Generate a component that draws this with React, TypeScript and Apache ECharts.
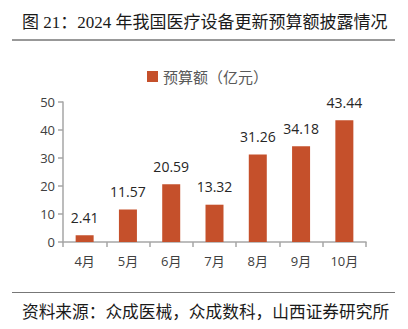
import React, { useEffect, useRef } from "react";
import * as echarts from "echarts";

const categories = ["4月", "5月", "6月", "7月", "8月", "9月", "10月"];
const values = [2.41, 11.57, 20.59, 13.32, 31.26, 34.18, 43.44];
const seriesName = "预算额（亿元）";
const titleText = "图 21：2024 年我国医疗设备更新预算额披露情况";
const sourceText = "资料来源：众成医械，众成数科，山西证券研究所";

export default function App() {
  const ref = useRef<HTMLDivElement>(null);
  useEffect(() => {
    const chart = echarts.init(ref.current!, null, { renderer: "svg" });
    const cjk = '"Liberation Serif", "Noto Sans CJK SC", serif';
    const sans = '"Open Sans", "Noto Sans CJK SC", sans-serif';
    chart.setOption({
      animation: false,
      backgroundColor: "#ffffff",
      grid: { left: 63, right: 42, top: 102, bottom: 87, containLabel: false },
      legend: {
        data: [seriesName],
        top: 64,
        left: 142,
        itemWidth: 11,
        itemHeight: 11,
        icon: "rect",
        itemGap: 7,
        textStyle: { fontSize: 15, color: "#595959", fontFamily: sans },
      },
      xAxis: {
        type: "category",
        data: categories,
        axisLine: { lineStyle: { color: "#a6a6a6", width: 1.5 } },
        axisTick: { show: true, length: 5, lineStyle: { color: "#a6a6a6", width: 1.5 } },
        axisLabel: { fontSize: 13, color: "#404040", margin: 12, fontFamily: sans },
      },
      yAxis: {
        type: "value",
        min: 0,
        max: 50,
        interval: 10,
        axisLine: { show: true, lineStyle: { color: "#a6a6a6", width: 1.5 } },
        axisTick: { show: true, length: 5, lineStyle: { color: "#a6a6a6", width: 1.5 } },
        splitLine: { show: false },
        axisLabel: { fontSize: 13, color: "#404040", margin: 8, fontFamily: sans },
      },
      series: [
        {
          name: seriesName,
          type: "bar",
          data: values,
          barWidth: 18,
          itemStyle: { color: "#c5502b" },
          label: {
            show: true,
            position: "top",
            distance: 11,
            fontSize: 14,
            color: "#262626",
            fontFamily: sans,
          },
        },
      ],
      graphic: [
        {
          type: "text",
          left: 22,
          top: 13.5,
          style: { text: titleText, fontSize: 17, fill: "#1a1a1a", fontFamily: cjk },
        },
        {
          type: "line",
          shape: { x1: 12, y1: 40, x2: 395, y2: 40 },
          style: { stroke: "#333333", lineWidth: 1 },
        },
        {
          type: "line",
          shape: { x1: 12, y1: 292.5, x2: 395, y2: 292.5 },
          style: { stroke: "#777777", lineWidth: 1 },
        },
        {
          type: "text",
          left: 22,
          top: 304,
          style: { text: sourceText, fontSize: 16.7, fill: "#1a1a1a", fontFamily: cjk },
        },
      ],
    });
    return () => chart.dispose();
  }, []);
  return (
    <div
      ref={ref}
      style={{ position: "absolute", left: 0, top: 0, width: 408, height: 329 }}
    />
  );
}
